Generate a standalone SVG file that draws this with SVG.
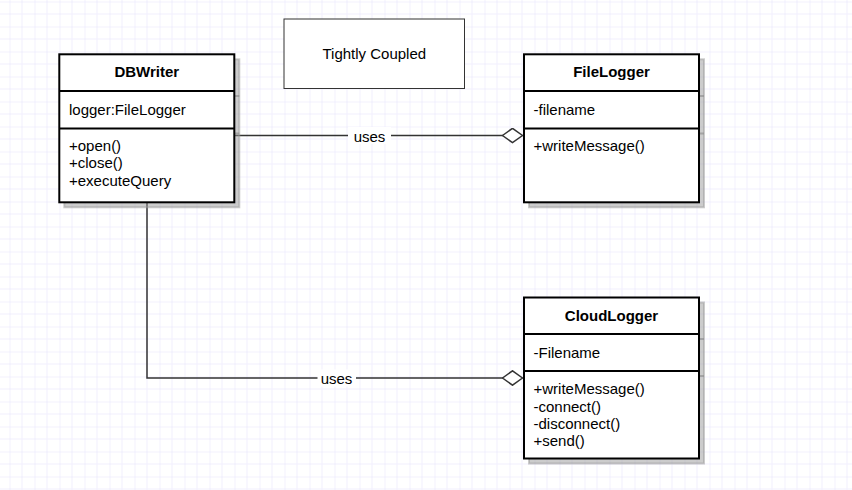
<svg xmlns="http://www.w3.org/2000/svg" width="852" height="490" viewBox="0 0 852 490">
<defs>
<pattern id="grid" patternUnits="userSpaceOnUse" x="9.5" y="1.5" width="25" height="25">
<path d="M12.5 0V25M0 12.5H25" stroke="#f1effd" stroke-width="1" fill="none"/>
<path d="M0 0V25M0 0H25" stroke="#e6e3fb" stroke-width="1" fill="none"/>
</pattern>
<marker id="diamond" viewBox="0 0 21 16" refX="20.5" refY="8" markerWidth="21" markerHeight="16" markerUnits="userSpaceOnUse" orient="auto">
<path d="M0.5 8L10.5 0.8L20.5 8L10.5 15.2Z" fill="#fff" stroke="#333" stroke-width="1.5"/>
</marker>
</defs>
<style>
.box{fill:#fff;stroke:#000;stroke-width:2}
.div{stroke:#000;stroke-width:2}
.sh{fill:#999;fill-opacity:.5;stroke:#999;stroke-opacity:.5;stroke-width:2}
.shl{stroke:#888;stroke-opacity:.6;stroke-width:2}
.t{font-family:"Liberation Sans",Arial,sans-serif;font-size:15px;fill:#000}
.b{font-weight:bold;text-anchor:middle}
.m{text-anchor:middle}
.edge{fill:none;stroke:#333;stroke-width:1.5}
.lbg{fill:#fff}
</style>
<rect x="0" y="0" width="852" height="490" fill="#fff"/>
<rect x="0" y="0" width="852" height="490" fill="url(#grid)"/>

<g id="title-note">
<rect x="284" y="19" width="180.5" height="69.5" fill="#fff" stroke="#333" stroke-width="1"/>
<text class="t m" x="374.3" y="59.3">Tightly Coupled</text>
</g>

<g id="connectors">
<path class="edge" d="M235 135.5H522.5" marker-end="url(#diamond)"/>
<rect class="lbg" x="348" y="127" width="43" height="17"/>
<text class="t m" x="369.5" y="141.5">uses</text>
<path class="edge" d="M147 203V378H522.5" marker-end="url(#diamond)"/>
<rect class="lbg" x="317.5" y="369.5" width="38.5" height="17"/>
<text class="t m" x="336.5" y="383.7">uses</text>
</g>

<g id="DBWriter">
<rect class="sh" x="64.3" y="59.3" width="175" height="148"/>
<path class="shl" d="M234.3 96H239.3M234.3 133.5H239.3"/>
<rect class="box" x="59.3" y="54.3" width="175" height="148"/>
<path class="div" d="M59.3 91H234.3M59.3 128.5H234.3"/>
<text class="t b" x="146.8" y="77.3">DBWriter</text>
<text class="t" x="69" y="115">logger:FileLogger</text>
<text class="t" x="69" y="151">+open()</text>
<text class="t" x="69" y="168.3">+close()</text>
<text class="t" x="69" y="185.6">+executeQuery</text>
</g>

<g id="FileLogger">
<rect class="sh" x="529" y="59.3" width="175" height="148"/>
<path class="shl" d="M699 96H704M699 133.5H704"/>
<rect class="box" x="524" y="54.3" width="175" height="148"/>
<path class="div" d="M524 91H699M524 128.5H699"/>
<text class="t b" x="611.5" y="77.3">FileLogger</text>
<text class="t" x="533.5" y="114.5">-filename</text>
<text class="t" x="533.5" y="151">+writeMessage()</text>
</g>

<g id="CloudLogger">
<rect class="sh" x="529" y="302.5" width="175" height="161"/>
<path class="shl" d="M699 339H704M699 376H704"/>
<rect class="box" x="524" y="297.5" width="175" height="161"/>
<path class="div" d="M524 334H699M524 371H699"/>
<text class="t b" x="611.5" y="320.7">CloudLogger</text>
<text class="t" x="533.5" y="357.7">-Filename</text>
<text class="t" x="533.5" y="394.3">+writeMessage()</text>
<text class="t" x="533.5" y="411.5">-connect()</text>
<text class="t" x="533.5" y="428.7">-disconnect()</text>
<text class="t" x="533.5" y="446">+send()</text>
</g>
</svg>
